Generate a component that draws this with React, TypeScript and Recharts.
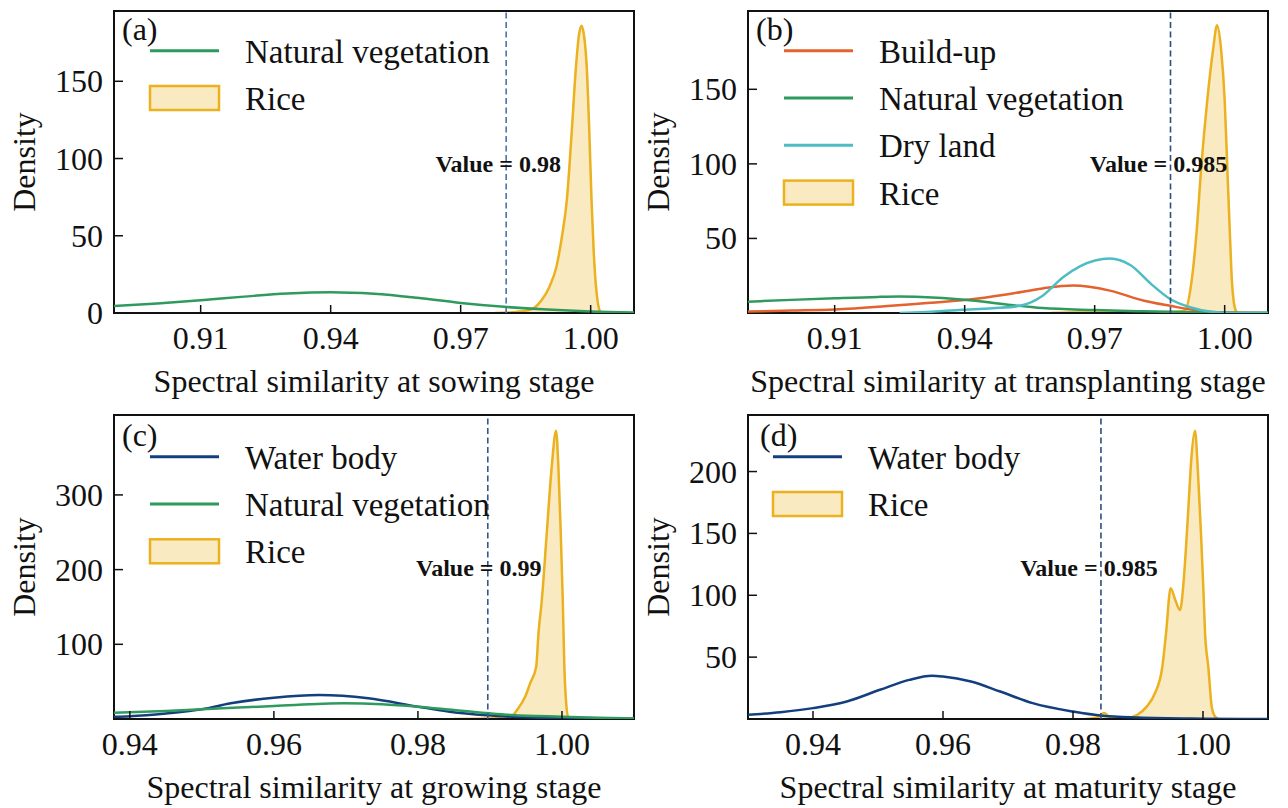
import React from 'react';
import { ComposedChart, Line, Area, XAxis, YAxis, ReferenceLine, ReferenceArea } from 'recharts';

const FONT = "'Liberation Serif', 'Times New Roman', Times, serif";
const INK = '#111';
const TXT = { fontFamily: FONT };

// series colours
const NATURAL = '#2f9a5d';
const BUILD_UP = '#e3622e';
const DRY_LAND = '#4cbdc2';
const WATER = '#143f7f';
const RICE = '#ebb11e';

// (a) sowing stage: [similarity, density]
const sowingNatural: [number, number][] = [
  [0.89, 4.5], [0.9, 6.2], [0.91, 8.3], [0.92, 10.6], [0.93, 12.6], [0.94, 13.4],
  [0.95, 12.4], [0.96, 9.8], [0.97, 6.5], [0.98, 4.0], [0.99, 2.2], [1.0, 1.0], [1.01, 0.4],
];
const sowingRice: [number, number][] = [
  [0.978, 0], [0.982, 0.5], [0.986, 2], [0.9887, 8.4], [0.9905, 17], [0.9921, 30],
  [0.9934, 50], [0.9945, 73], [0.9956, 116], [0.9966, 159], [0.9973, 180], [0.9979, 186],
  [0.9985, 179], [0.9991, 159], [0.9997, 116], [1.0002, 73], [1.0007, 40], [1.0012, 18],
  [1.0017, 6], [1.0022, 1], [1.003, 0],
];

// (b) transplanting stage
const transBuildUp: [number, number][] = [
  [0.89, 1.0], [0.9, 1.6], [0.91, 2.3], [0.923, 4.8], [0.93, 6.4], [0.94, 8.7], [0.95, 12.6],
  [0.958, 16.5], [0.965, 18.4], [0.9735, 15], [0.9814, 8.2], [0.9874, 4.8], [0.994, 1.5],
  [1.0, 0.3], [1.01, 0],
];
const transNatural: [number, number][] = [
  [0.89, 7.6], [0.9, 8.8], [0.91, 9.9], [0.92, 10.8], [0.925, 11], [0.93, 10.7], [0.94, 8.9],
  [0.95, 5.6], [0.958, 3.3], [0.97, 2.0], [0.98, 1.2], [0.99, 0.6], [1.0, 0.3], [1.01, 0.1],
];
const transDryLand: [number, number][] = [
  [0.925, 0], [0.93, 0.5], [0.9394, 2.1], [0.9465, 3.2], [0.9527, 4.8], [0.958, 11.6],
  [0.9627, 24], [0.9666, 31.3], [0.9735, 36.5], [0.9783, 32], [0.983, 19.5], [0.9874, 9.4],
  [0.9922, 3.7], [0.9969, 0.8], [1.002, 0], [1.01, 0],
];
const transRice: [number, number][] = [
  [0.96, 0], [0.965, 0.4], [0.975, 0.3], [0.985, 0.5], [0.9895, 1], [0.9909, 2], [0.9923, 20],
  [0.9935, 53.5], [0.9946, 98], [0.996, 143], [0.9973, 176], [0.99825, 193], [0.9992, 176],
  [1.0, 143], [1.0006, 98], [1.0012, 53.5], [1.0017, 20], [1.0025, 2], [1.003, 0],
];

// (c) growing stage
const growWater: [number, number][] = [
  [0.9378, 3], [0.94, 3.8], [0.945, 7.5], [0.95, 13], [0.954, 21], [0.96, 28.5], [0.9663, 32],
  [0.9731, 27.7], [0.98, 16.5], [0.9844, 9.8], [0.9895, 5], [0.995, 2.2], [1.0, 1],
  [1.005, 0.5], [1.01, 0.3],
];
const growNatural: [number, number][] = [
  [0.9378, 8.4], [0.945, 10.8], [0.95, 13], [0.96, 17.4], [0.9697, 21], [0.975, 19.8],
  [0.98, 16.5], [0.985, 12], [0.99, 7.6], [0.993, 5.4], [1.0, 3], [1.005, 1.6], [1.01, 0.8],
];
const growRice: [number, number][] = [
  [0.985, 0], [0.9895, 0.6], [0.9928, 2], [0.99376, 12], [0.9949, 30], [0.99559, 48],
  [0.99642, 70], [0.99674, 115], [0.9972, 159], [0.99789, 249], [0.99858, 338],
  [0.99918, 386], [0.9995, 338], [0.99983, 249], [1.00011, 159], [1.00033, 70],
  [1.00052, 30], [1.00089, 2], [1.0014, 0],
];

// (d) maturity stage
const matWater: [number, number][] = [
  [0.93, 3.4], [0.935, 5.5], [0.94, 8.8], [0.9452, 14.1], [0.9503, 23.6], [0.9548, 31.6],
  [0.9583, 34.9], [0.96, 34.3], [0.9643, 30.3], [0.9688, 22.2], [0.9738, 12.8], [0.98, 6],
  [0.9845, 2.6], [0.99, 1.2], [1.0, 0.3], [1.01, 0],
];
const matRice: [number, number][] = [
  [0.982, 0], [0.9838, 1.5], [0.9848, 4.8], [0.9858, 1.2], [0.988, 0.5], [0.9899, 3.4],
  [0.99134, 10], [0.99262, 21], [0.99374, 42], [0.99431, 69], [0.99503, 105.7],
  [0.99575, 96], [0.99646, 88], [0.997, 110], [0.9974, 140], [0.9978, 175], [0.9982, 210],
  [0.99877, 233], [0.99918, 204], [0.99969, 150], [1.00005, 106], [1.00031, 70],
  [1.00082, 42], [1.00134, 10], [1.00185, 2], [1.0024, 0],
];

// axis ticks
const xTicksEarly = [0.91, 0.94, 0.97, 1.0];
const xTicksLate = [0.94, 0.96, 0.98, 1.0];
const yTicksA = [0, 50, 100, 150];
const yTicksB = [50, 100, 150];
const yTicksC = [100, 200, 300];
const yTicksD = [50, 100, 150, 200];

// threshold lines and their labels
const thresholds = [0.9805, 0.9875, 0.9897, 0.9843];
const thresholdLabels = ['Value = 0.98', 'Value = 0.985', 'Value = 0.99', 'Value = 0.985'];

const rows = (pts: [number, number][]) => pts.map(([x, y]) => ({ x, y }));

type Series = { name: string; color: string; data: [number, number][] };

// margins leave 1px for each axis (an axis of size 0 draws no ticks)
const panels = [
  {
    tag: '(a)', xLabel: 'Spectral similarity at sowing stage',
    left: 0, top: 0, width: 640, height: 400,
    margin: { top: 11, right: 6, bottom: 86, left: 113 },
    xDomain: [0.89, 1.01], xTicks: xTicksEarly, yDomain: [0, 195.5], yTicks: yTicksA,
    lines: [{ name: 'Natural vegetation', color: NATURAL, data: sowingNatural }] as Series[],
    rice: sowingRice, threshold: thresholds[0], thresholdLabel: thresholdLabels[0],
    labelShift: 8, dash: '#4a74ad', tagDx: 8, tagBase: 29, legendDx: 0, rowTop: 39.7,
  },
  {
    tag: '(b)', xLabel: 'Spectral similarity at transplanting stage',
    left: 640, top: 0, width: 648, height: 400,
    margin: { top: 11, right: 20, bottom: 86, left: 107 },
    xDomain: [0.89, 1.01], xTicks: xTicksEarly, yDomain: [0, 202.5], yTicks: yTicksB,
    lines: [
      { name: 'Build-up', color: BUILD_UP, data: transBuildUp },
      { name: 'Natural vegetation', color: NATURAL, data: transNatural },
      { name: 'Dry land', color: DRY_LAND, data: transDryLand },
    ] as Series[],
    rice: transRice, threshold: thresholds[1], thresholdLabel: thresholdLabels[1],
    labelShift: 12, dash: '#2d4d7c', tagDx: 8, tagBase: 29, legendDx: 0, rowTop: 39.7,
  },
  {
    tag: '(c)', xLabel: 'Spectral similarity at growing stage',
    left: 0, top: 400, width: 640, height: 408,
    margin: { top: 15, right: 6, bottom: 88, left: 113 },
    xDomain: [0.9378, 1.01], xTicks: xTicksLate, yDomain: [0, 407], yTicks: yTicksC,
    lines: [
      { name: 'Water body', color: WATER, data: growWater },
      { name: 'Natural vegetation', color: NATURAL, data: growNatural },
    ] as Series[],
    rice: growRice, threshold: thresholds[2], thresholdLabel: thresholdLabels[2],
    labelShift: 9, dash: '#35598c', tagDx: 8, tagBase: 31, legendDx: 0, rowTop: 41.7,
  },
  {
    tag: '(d)', xLabel: 'Spectral similarity at maturity stage',
    left: 640, top: 400, width: 648, height: 408,
    margin: { top: 15, right: 20, bottom: 88, left: 107 },
    xDomain: [0.93, 1.01], xTicks: xTicksLate, yDomain: [0, 245.7], yTicks: yTicksD,
    lines: [{ name: 'Water body', color: WATER, data: matWater }] as Series[],
    rice: matRice, threshold: thresholds[3], thresholdLabel: thresholdLabels[3],
    labelShift: 12, dash: '#2d4d7c', tagDx: 12, tagBase: 31, legendDx: -11, rowTop: 41.7,
  },
];

const XTick = (props: any) => {
  const { x, y, payload } = props;
  return (
    <g>
      <line x1={x} y1={y} x2={x} y2={y - 8} stroke={INK} strokeWidth={1.5} />
      <text x={x} y={y + 36} textAnchor="middle" fontSize={32} style={TXT} fill={INK}>
        {Number(payload.value).toFixed(2)}
      </text>
    </g>
  );
};

const YTick = (props: any) => {
  const { x, y, payload } = props;
  return (
    <g>
      <line x1={x} y1={y} x2={x + 9} y2={y} stroke={INK} strokeWidth={1.5} />
      <text x={x - 11} y={y + 11} textAnchor="end" fontSize={32} style={TXT} fill={INK}>
        {payload.value}
      </text>
    </g>
  );
};

const Panel = ({ p }: { p: (typeof panels)[number] }) => {
  const { margin } = p;
  // plot box: the 1px axes sit inside the margins
  const plotL = margin.left + 1;
  const plotT = margin.top;
  const plotW = p.width - plotL - margin.right;
  const plotH = p.height - plotT - margin.bottom - 1;
  const lx0 = plotL + 36 + p.legendDx;
  const lx1 = plotL + 105 + p.legendDx;
  const tx = plotL + 131 + p.legendDx;
  const legend = [...p.lines.map((s) => ({ name: s.name, color: s.color, patch: false })),
    { name: 'Rice', color: RICE, patch: true }];

  return (
    <div style={{ position: 'absolute', left: p.left, top: p.top, width: p.width, height: p.height }}>
      <ComposedChart width={p.width} height={p.height} margin={margin}>
        <XAxis
          type="number" dataKey="x" domain={p.xDomain} ticks={p.xTicks} interval={0}
          allowDataOverflow axisLine={false} tickLine={false} tickSize={0} tickMargin={0}
          height={1} tick={(tp: any) => <XTick {...tp} />}
        />
        <YAxis
          type="number" domain={p.yDomain} ticks={p.yTicks} interval={0}
          allowDataOverflow axisLine={false} tickLine={false} tickSize={0} tickMargin={0}
          width={1} tick={(tp: any) => <YTick {...tp} />}
        />
        <Area
          data={rows(p.rice)} dataKey="y" name="Rice" type="monotone"
          stroke={RICE} strokeWidth={2.5} fill={RICE} fillOpacity={0.27}
          dot={false} activeDot={false} isAnimationActive={false}
        />
        {p.lines.map((s) => (
          <Line
            key={s.name} data={rows(s.data)} dataKey="y" name={s.name} type="monotone"
            stroke={s.color} strokeWidth={2.5} dot={false} activeDot={false} isAnimationActive={false}
          />
        ))}
        <ReferenceLine
          x={p.threshold} stroke={p.dash} strokeWidth={1.6} strokeDasharray="6 3.5"
          label={(lp: any) => (
            <text
              x={lp.viewBox.x - p.labelShift} y={lp.viewBox.y + 161} textAnchor="middle"
              fontSize={24} fontWeight="bold" style={TXT} fill={INK}
            >
              {p.thresholdLabel}
            </text>
          )}
        />
        <ReferenceArea
          x1={p.xDomain[0]} x2={p.xDomain[1]} y1={p.yDomain[0]} y2={p.yDomain[1]}
          fill="none" stroke={INK} strokeWidth={2} ifOverflow="visible"
        />
      </ComposedChart>
      <svg
        width={p.width} height={p.height}
        style={{ position: 'absolute', left: 0, top: 0, pointerEvents: 'none' }}
      >
        <text
          transform={`translate(${plotL - 79}, ${plotT + plotH / 2}) rotate(-90)`}
          textAnchor="middle" fontSize={32} style={TXT} fill={INK}
        >
          Density
        </text>
        <text
          x={plotL + plotW / 2} y={plotT + plotH + 79} textAnchor="middle"
          fontSize={32} style={TXT} fill={INK}
        >
          {p.xLabel}
        </text>
        <text x={plotL + p.tagDx} y={plotT + p.tagBase} fontSize={32} style={TXT} fill={INK}>
          {p.tag}
        </text>
        {legend.map((item, i) => {
          const cy = plotT + p.rowTop + i * 47.3;
          return (
            <g key={item.name}>
              {item.patch ? (
                <rect
                  x={lx0} y={cy - 12} width={lx1 - lx0} height={24}
                  fill={RICE} fillOpacity={0.27} stroke={RICE} strokeWidth={2.5}
                />
              ) : (
                <line x1={lx0} y1={cy} x2={lx1} y2={cy} stroke={item.color} strokeWidth={3} />
              )}
              <text x={tx} y={cy + 12} fontSize={33} style={TXT} fill={INK}>{item.name}</text>
            </g>
          );
        })}
      </svg>
    </div>
  );
};

export default function App() {
  return (
    <div style={{ position: 'absolute', left: 0, top: 0, width: 1288, height: 808, background: '#fff' }}>
      {panels.map((p) => (
        <Panel key={p.tag} p={p} />
      ))}
    </div>
  );
}
